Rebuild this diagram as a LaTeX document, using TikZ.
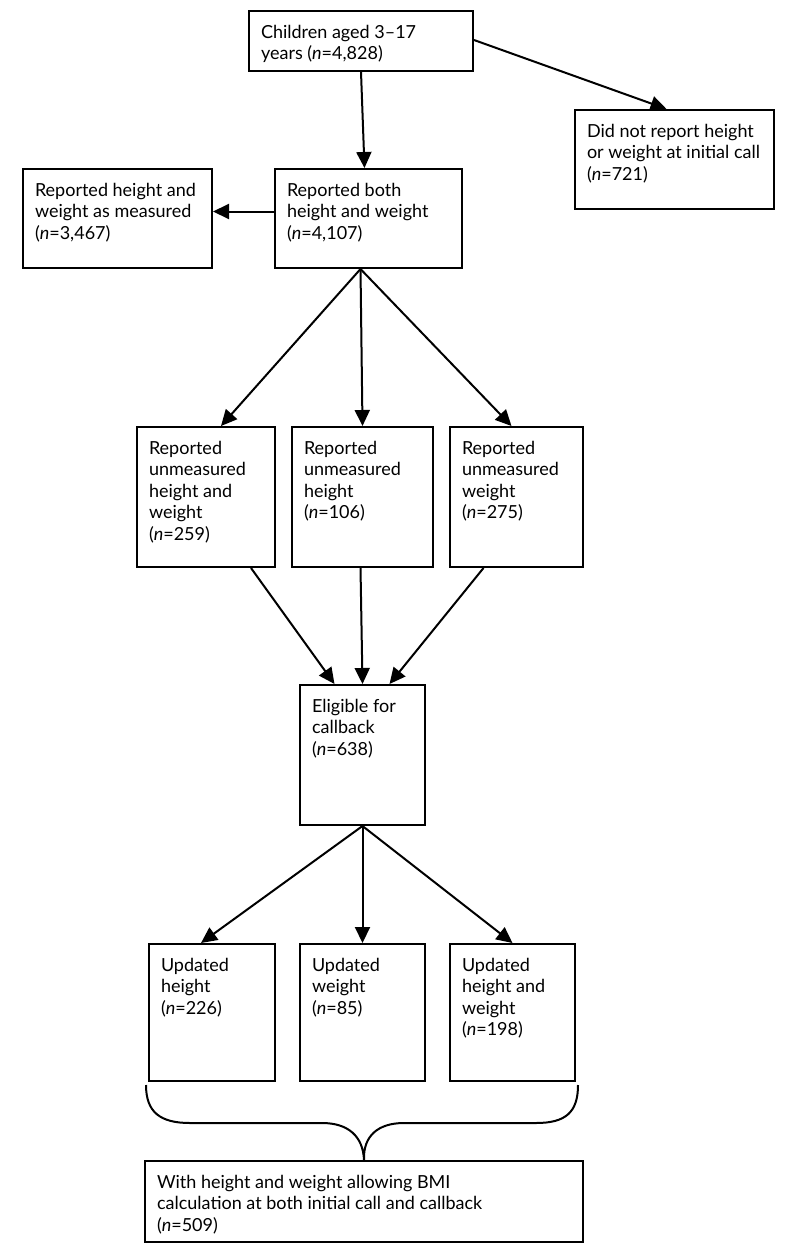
\documentclass[tikz,border=0pt]{standalone}
\usepackage{fontspec}
\setmainfont{Lato}
\usepackage{tikz}
\usetikzlibrary{calc,arrows.meta}

\newcommand{\cell}[3]{\parbox[t][#2][t]{#1}{\raggedright\strut #3}}

\begin{document}
\begin{tikzpicture}[
        x=1pt, y=-1pt,
        every node/.style={font=\fontsize{18}{21.5}\selectfont},
        box/.style={rectangle, draw=black, line width=2pt, fill=white, anchor=north west, inner xsep=12pt, inner ysep=12pt},
        arrow/.style={-{Triangle[length=16pt,width=15pt]}, line width=2pt, draw=black},
        brace/.style={line width=2pt, draw=black},
    ]
        \useasboundingbox (0,0) rectangle (794,1255);

        \node[box] (children) at (248,10) {\cell{200pt}{36pt}{Children aged 3–17\\years (\textit{n}=4,828)}};
        \node[box] (noreport) at (574,109) {\cell{175pt}{75pt}{Did not report height\\or weight at initial call\\(\textit{n}=721)}};
        \node[box] (measured) at (22,168) {\cell{165pt}{75pt}{Reported height and\\weight as measured\\(\textit{n}=3,467)}};
        \node[box] (both) at (274,168) {\cell{163pt}{75pt}{Reported both\\height and weight\\(\textit{n}=4,107)}};

        \node[box] (unmhw) at (136,426) {\cell{114pt}{116pt}{Reported\\unmeasured\\height and\\weight\\(\textit{n}=259)}};
        \node[box] (unmh) at (291,426) {\cell{117pt}{116pt}{Reported\\unmeasured\\height\\(\textit{n}=106)}};
        \node[box] (unmw) at (449,426) {\cell{109pt}{116pt}{Reported\\unmeasured\\weight\\(\textit{n}=275)}};

        \node[box] (eligible) at (299,684) {\cell{101pt}{116pt}{Eligible for\\callback\\(\textit{n}=638)}};

        \node[box] (updh) at (148,943) {\cell{102pt}{113pt}{Updated\\height\\(\textit{n}=226)}};
        \node[box] (updw) at (299,943) {\cell{101pt}{113pt}{Updated\\weight\\(\textit{n}=85)}};
        \node[box] (updhw) at (449,943) {\cell{101pt}{113pt}{Updated\\height and\\weight\\(\textit{n}=198)}};

        \node[box] (bmi) at (144,1160) {\cell{414pt}{57pt}{With height and weight allowing BMI\\calculation at both initial call and callback\\(\textit{n}=509)}};

        \draw[arrow] (children.south) -- ([xshift=-4pt]both.north);
        \draw[arrow] ([yshift=-30pt]children.north east) -- ([xshift=-8pt]noreport.north);
        \draw[arrow] ([yshift=7pt]both.west) -- ([yshift=7pt]measured.east);

        \coordinate (bothfoot) at ([xshift=-8pt]both.south);
        \draw[arrow] (bothfoot) -- ([xshift=15pt]unmhw.north);
        \draw[arrow] (bothfoot) -- (unmh.north);
        \draw[arrow] (bothfoot) -- ([xshift=-5pt]unmw.north);

        \draw[arrow] ([xshift=45pt]unmhw.south) -- ([xshift=-28pt]eligible.north);
        \draw[arrow] ([xshift=-2pt]unmh.south) -- (eligible.north);
        \draw[arrow] ([xshift=-33pt]unmw.south) -- ([xshift=27pt]eligible.north);

        \draw[arrow] (eligible.south) -- ([xshift=-11pt]updh.north);
        \draw[arrow] (eligible.south) -- (updw.north);
        \draw[arrow] (eligible.south) -- (updhw.north);

        \coordinate (tip) at (bmi.north);
        \draw[brace] (146,1085) .. controls (146,1112) and (160,1123) .. (190,1123) -- (322,1123)
            .. controls (348,1123) and (363,1136) .. (tip)
            .. controls (363,1136) and (378,1123) .. (404,1123) -- (536,1123)
            .. controls (566,1123) and (578,1112) .. (578,1085);

    \end{tikzpicture}
\end{document}
